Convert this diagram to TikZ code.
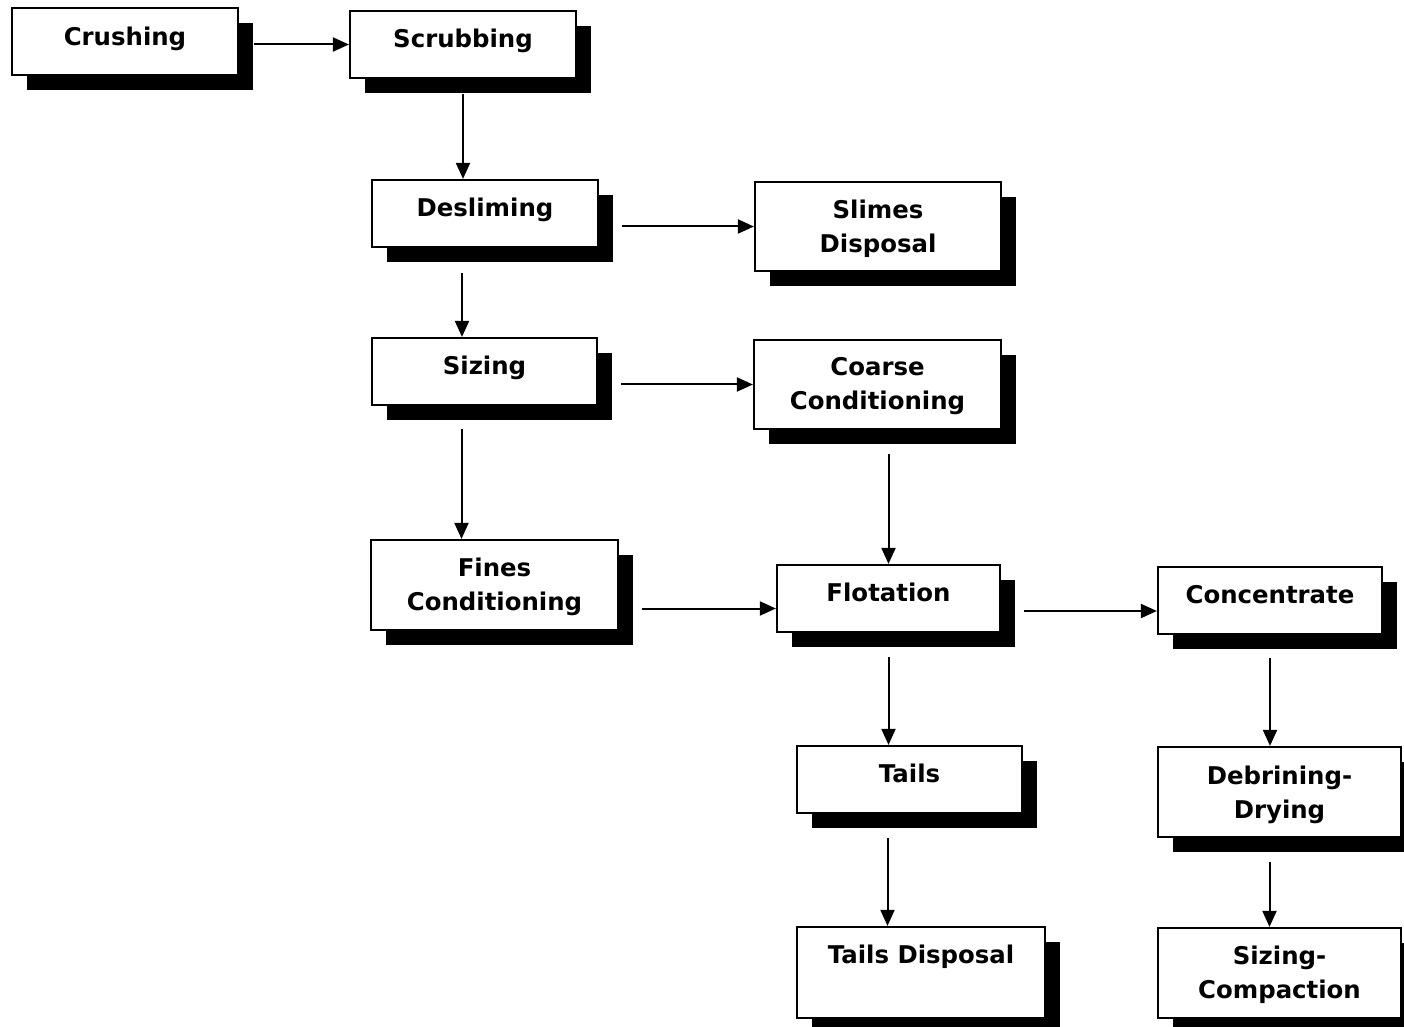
\documentclass[tikz,border=0pt]{standalone}
\usepackage{fontspec}
\setmainfont{DejaVu Sans}
\usetikzlibrary{arrows.meta,shadows,fit}
\begin{document}
\begin{tikzpicture}[x=0.5pt,y=-0.5pt,
  proc/.style={draw=black, line width=1.1pt, fill=white, inner sep=0pt,
    drop shadow={shadow xshift=7.5pt, shadow yshift=-7.5pt, fill=black, opacity=1}},
  lbl/.style={anchor=base, align=center, inner sep=0pt,
    font=\fontsize{12.2}{17}\selectfont\bfseries},
  arr/.style={-{Triangle[length=8pt,width=7pt]}, line width=1pt}]
\clip (0,0) rectangle (1404,1027);
\useasboundingbox (0,0) rectangle (1404,1027);
% boxes
\node[proc, fit={(12,8) (238,75)}] (crush) {};
\node[proc, fit={(350,11) (576,78)}] (scrub) {};
\node[proc, fit={(372,180) (598,247)}] (desl) {};
\node[proc, fit={(755,182) (1001,271)}] (slimes) {};
\node[proc, fit={(372,338) (597,405)}] (sizing) {};
\node[proc, fit={(754,340) (1001,429)}] (coarse) {};
\node[proc, fit={(371,540) (618,630)}] (fines) {};
\node[proc, fit={(777,565) (1000,632)}] (flot) {};
\node[proc, fit={(1158,567) (1382,634)}] (conc) {};
\node[proc, fit={(797,746) (1022,813)}] (tails) {};
\node[proc, fit={(1158,747) (1401,837)}] (debr) {};
\node[proc, fit={(797,927) (1045,1018)}] (tdisp) {};
\node[proc, fit={(1158,928) (1401,1018)}] (sizc) {};
% labels (base anchor = baseline of last line)
\node[lbl] (crush-t) at ([yshift=-19.5pt]crush.north) {Crushing};
\node[lbl] (scrub-t) at ([yshift=-19pt]scrub.north) {Scrubbing};
\node[lbl] (desl-t) at ([yshift=-19pt]desl.north) {Desliming};
\node[lbl] (slimes-t) at ([yshift=-36pt]slimes.north) {Slimes\\Disposal};
\node[lbl] (sizing-t) at ([yshift=-19pt]sizing.north) {Sizing};
\node[lbl] (coarse-t) at ([yshift=-35.5pt]coarse.north) {Coarse\\Conditioning};
\node[lbl] (fines-t) at ([yshift=-36pt]fines.north) {Fines\\Conditioning};
\node[lbl] (flot-t) at ([yshift=-19pt]flot.north) {Flotation};
\node[lbl] (conc-t) at ([yshift=-19pt]conc.north) {Concentrate};
\node[lbl] (tails-t) at ([yshift=-19pt]tails.north) {Tails};
\node[lbl] (debr-t) at ([yshift=-36.5pt]debr.north) {Debrining-\\Drying};
\node[lbl] (tdisp-t) at ([yshift=-19pt]tdisp.north) {Tails Disposal};
\node[lbl] (sizc-t) at ([yshift=-36pt]sizc.north) {Sizing-\\Compaction};
% connector end points
\coordinate (flot-in) at ([yshift=-5pt]flot.west);
\coordinate (conc-in) at ([yshift=-5.25pt]conc.west);
\coordinate (desl-out) at ([xshift=-11.5pt]desl.south);
\coordinate (sizing-out) at ([xshift=-11.5pt]sizing.south);
\coordinate (tails-out) at ([xshift=-11pt]tails.south);
\coordinate (debr-out) at ([xshift=-5pt]debr.south);
% connectors
\draw[arr, shorten <=7.5pt] (crush.east |- scrub.west) -- (scrub.west);
\draw[arr, shorten <=7.5pt] (scrub.south) -- (scrub.south |- desl.north);
\draw[arr, shorten <=11.5pt] (desl.east |- slimes.west) -- (slimes.west);
\draw[arr, shorten <=12.5pt] (desl-out) -- (desl-out |- sizing.north);
\draw[arr, shorten <=11.5pt] (sizing.east |- coarse.west) -- (coarse.west);
\draw[arr, shorten <=11.5pt] (sizing-out) -- (sizing-out |- fines.north);
\draw[arr, shorten <=12pt] (flot.north |- coarse.south) -- (flot.north);
\draw[arr, shorten <=11.5pt] (fines.east |- flot-in) -- (flot-in);
\draw[arr, shorten <=11.5pt] (flot.east |- conc-in) -- (conc-in);
\draw[arr, shorten <=12pt] (flot.south) -- (flot.south |- tails.north);
\draw[arr, shorten <=11.5pt] (conc.south) -- (conc.south |- debr.north);
\draw[arr, shorten <=12pt] (tails-out) -- (tails-out |- tdisp.north);
\draw[arr, shorten <=12pt] (debr-out) -- (debr-out |- sizc.north);
\end{tikzpicture}
\end{document}
